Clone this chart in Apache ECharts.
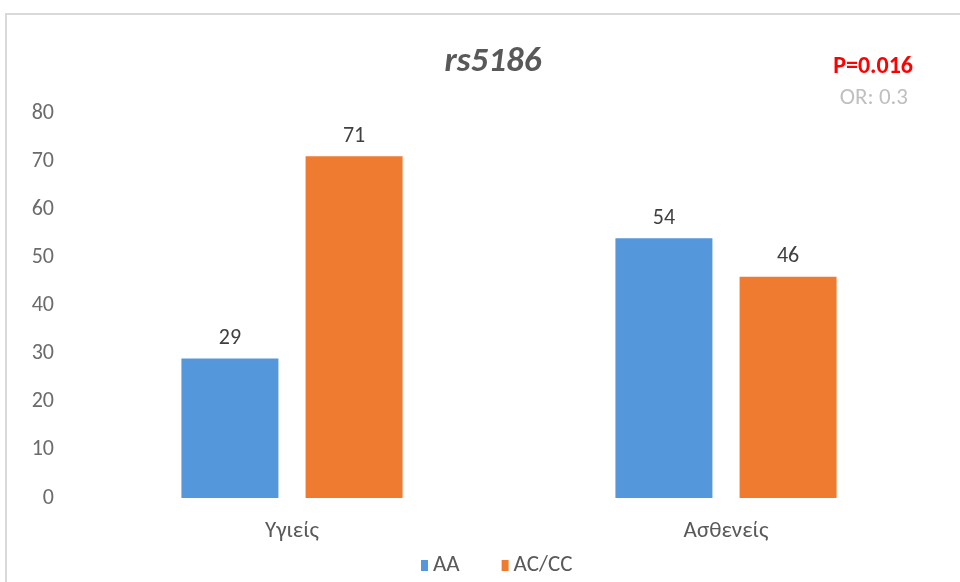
<!DOCTYPE html>
<html>
<head>
<meta charset="utf-8">
<script src="https://cdn.jsdelivr.net/npm/echarts@6/dist/echarts.min.js"></script>
<style>
html,body{margin:0;padding:0;background:#fff;}
#chart{width:960px;height:582px;}
</style>
</head>
<body>
<div id="chart"></div>
<script>
const categories = ['Υγιείς', 'Ασθενείς'];
const seriesNames = ['AA', 'AC/CC'];
const valuesAA = [29, 54];
const valuesACCC = [71, 46];
const yTicks = [0, 10, 20, 30, 40, 50, 60, 70, 80];

const FONT = "Carlito, 'Liberation Sans Narrow', 'DejaVu Sans Condensed', 'Open Sans', sans-serif";
const chart = echarts.init(document.getElementById('chart'));
chart.setOption({
  backgroundColor: '#ffffff',
  textStyle: { fontFamily: FONT },
  title: [
    { text: 'rs5186', left: 488, textAlign: 'center', top: 40,
      textStyle: { fontFamily: FONT, fontSize: 35, fontWeight: 'bold', fontStyle: 'italic', color: '#595959' } },
    { text: 'P=0.016', right: 42, top: 50,
      textStyle: { fontFamily: FONT, fontSize: 24, fontWeight: 'bold', color: '#ff0000' } },
    { text: 'OR: 0.3', right: 47, top: 82,
      textStyle: { fontFamily: FONT, fontSize: 23, fontWeight: 'normal', color: '#bfbfbf' } }
  ],
  graphic: [
    { type: 'rect', shape: { x: 6, y: 14, width: 980, height: 600 }, silent: true,
      style: { fill: 'none', stroke: '#d9d9d9', lineWidth: 2 } }
  ],
  legend: {
    data: seriesNames, bottom: 0, left: 416, itemWidth: 7, itemHeight: 11, itemGap: 42,
    icon: 'rect',
    textStyle: { fontFamily: FONT, fontSize: 23, color: '#595959' }
  },
  grid: { left: 75, right: 17, top: 113, bottom: 84 },
  xAxis: {
    type: 'category', data: categories,
    axisLine: { show: false }, axisTick: { show: false },
    axisLabel: { fontFamily: FONT, fontSize: 23, color: '#595959', margin: 22 }
  },
  yAxis: {
    type: 'value', min: yTicks[0], max: yTicks[yTicks.length - 1], interval: 10,
    axisLine: { show: false }, axisTick: { show: false },
    splitLine: { show: false },
    axisLabel: { fontFamily: FONT, fontSize: 22, color: '#6b6b6b', margin: 21 }
  },
  series: [
    { name: seriesNames[0], type: 'bar', data: valuesAA, barWidth: 97, barGap: '28%',
      itemStyle: { color: '#5597db' },
      label: { show: true, position: 'top', distance: 9, fontFamily: FONT, fontSize: 22, color: '#404040' } },
    { name: seriesNames[1], type: 'bar', data: valuesACCC, barWidth: 97,
      itemStyle: { color: '#ee7b2f' },
      label: { show: true, position: 'top', distance: 9, fontFamily: FONT, fontSize: 22, color: '#404040' } }
  ]
});
</script>
</body>
</html>
